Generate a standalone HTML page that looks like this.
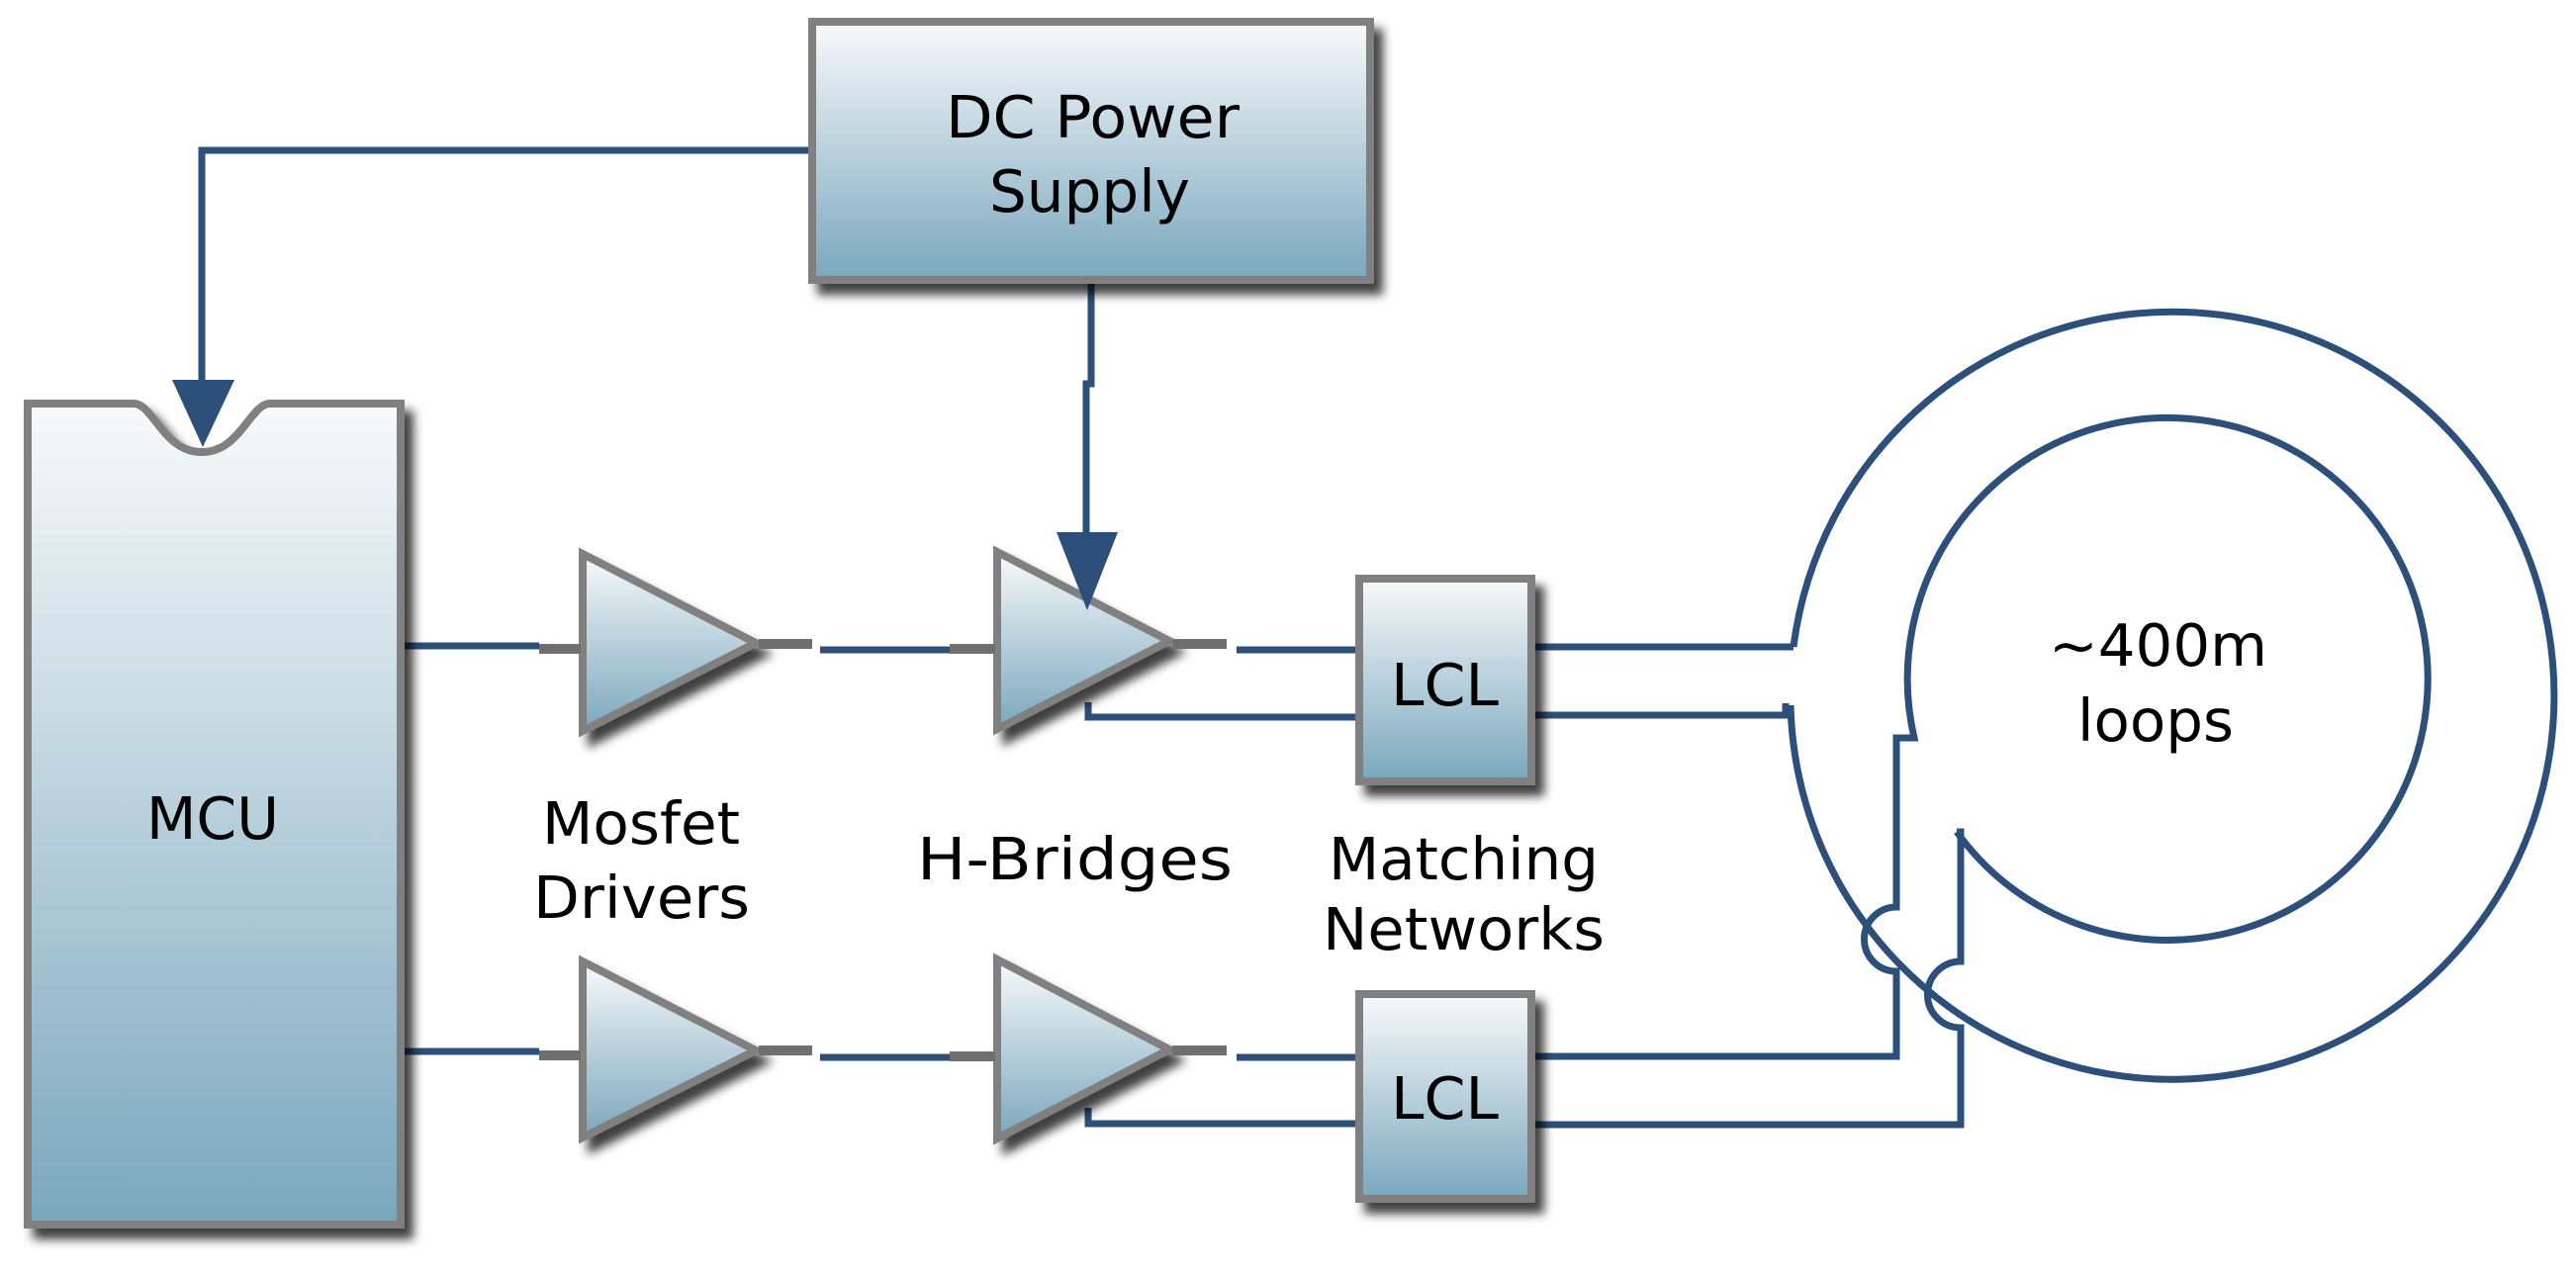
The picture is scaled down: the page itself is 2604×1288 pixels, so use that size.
<!DOCTYPE html>
<html><head><meta charset="utf-8"><style>html,body{margin:0;padding:0;background:#fff;}svg{display:block}</style></head>
<body>
<svg width="2604" height="1288" viewBox="0 0 2604 1288" xmlns="http://www.w3.org/2000/svg">
<defs>
<linearGradient id="g" x1="0" y1="0" x2="0" y2="1">
<stop offset="0" stop-color="#f8fafb"/><stop offset="1" stop-color="#7aa7bd"/>
</linearGradient>
<filter id="sh" x="-10%" y="-10%" width="130%" height="130%">
<feDropShadow dx="9" dy="11" stdDeviation="5" flood-color="#000" flood-opacity="0.75"/>
</filter>
</defs>
<g font-family="DejaVu Sans, Liberation Sans, sans-serif" font-size="59" fill="#000">

<g fill="none" stroke="#2c5079" stroke-width="7">
<path d="M819,152 H204 V400"/>
<path d="M1103,284 V388 H1098 V560"/>
<path d="M407,653 H545"/><path d="M829,657 H960"/><path d="M1250,657 H1372"/>
<path d="M1100,710 V725 H1372"/>
<path d="M407,1063 H545"/><path d="M829,1069 H960"/><path d="M1250,1069 H1372"/>
<path d="M1100,1120 V1136 H1372"/>
<path d="M1550,654 H1813"/><path d="M1550,723 H1805 V711"/>
<path d="M1813,654 A386,388 0 1 1 1810,713"/>
<path d="M1978,841 A263,264 0 1 0 1935,746 H1917 V917 A32,32 0 0 0 1917,982 V1068 H1550"/>
<path d="M1978,841 H1982 V972 A33,33 0 0 0 1982,1039 V1137 H1550"/>
</g>
<polygon points="174,384 237,384 205,452" fill="#2c5079"/>

<g stroke="#808080" stroke-width="8" fill="url(#g)" filter="url(#sh)">
<rect x="821" y="22" width="564" height="261"/>
<path d="M28,408 H135 C155,408 165,457 204,457 C243,457 253,408 273,408 H405 V1238 H28 Z"/>
<rect x="1374" y="585" width="174" height="205"/>
<rect x="1374" y="1005" width="174" height="207"/>
<polygon points="589,560 589,739 764,650"/>
<polygon points="1008,558 1008,737 1182,648"/>
<polygon points="589,972 589,1150 764,1062"/>
<polygon points="1008,970 1008,1151 1182,1061"/>
</g>
<g stroke="#6f6f6f" stroke-width="10">
<path d="M545,656 H587"/><path d="M767,651 H821"/>
<path d="M960,656 H1006"/><path d="M1185,651 H1240"/>
<path d="M545,1067 H587"/><path d="M767,1062 H821"/>
<path d="M960,1068 H1006"/><path d="M1185,1062 H1240"/>
</g>
<polygon points="1068,538 1130,538 1099,617" fill="#2c5079"/>

<text x="956" y="139" textLength="297" lengthAdjust="spacingAndGlyphs">DC Power</text>
<text x="1000" y="214" textLength="203" lengthAdjust="spacingAndGlyphs">Supply</text>
<text x="148" y="848" textLength="134" lengthAdjust="spacingAndGlyphs">MCU</text>
<text x="548" y="853" textLength="200" lengthAdjust="spacingAndGlyphs">Mosfet</text>
<text x="539" y="928" textLength="219" lengthAdjust="spacingAndGlyphs">Drivers</text>
<text x="927" y="889" textLength="319" lengthAdjust="spacingAndGlyphs">H-Bridges</text>
<text x="1343" y="889" textLength="273" lengthAdjust="spacingAndGlyphs">Matching</text>
<text x="1337" y="960" textLength="285" lengthAdjust="spacingAndGlyphs">Networks</text>
<text x="1406" y="713" textLength="109" lengthAdjust="spacingAndGlyphs">LCL</text>
<text x="1406" y="1131" textLength="109" lengthAdjust="spacingAndGlyphs">LCL</text>
<text x="2071" y="673" textLength="221" lengthAdjust="spacingAndGlyphs">~400m</text>
<text x="2100" y="749" textLength="158" lengthAdjust="spacingAndGlyphs">loops</text>
</g>
</svg>
</body></html>
